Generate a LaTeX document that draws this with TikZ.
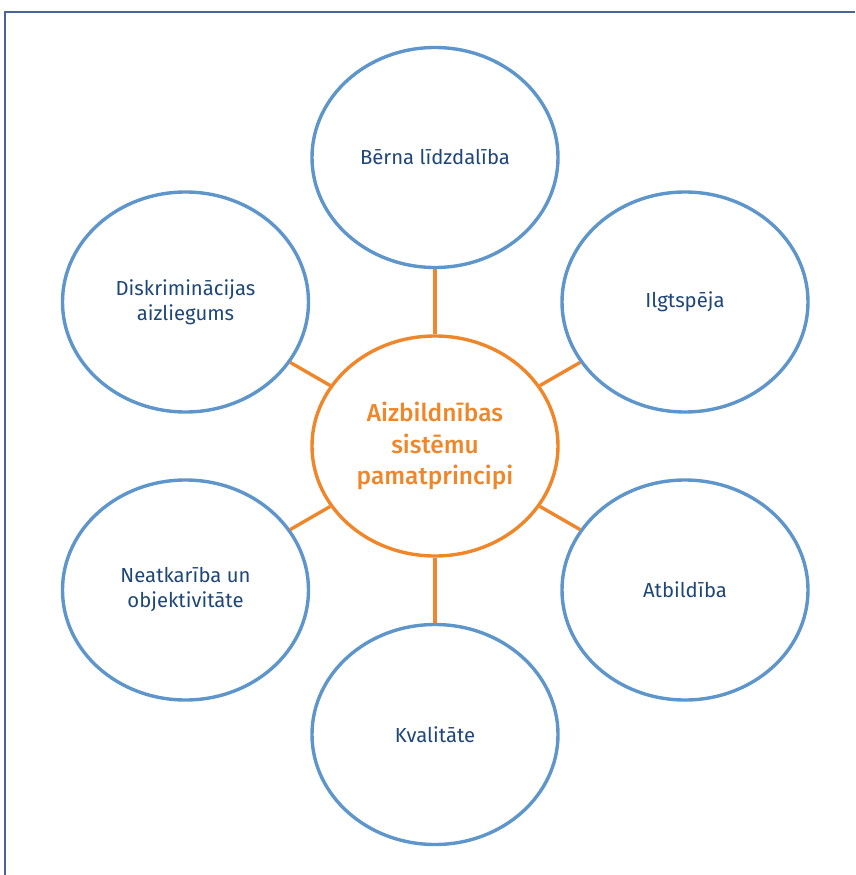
\documentclass[tikz,border=0pt]{standalone}
\usepackage{fontspec}
\setmainfont{Fira Sans}
\newfontfamily\medfont{Fira Sans Medium}
\usetikzlibrary{shapes.geometric}
\definecolor{ringblue}{HTML}{5E96CB}
\definecolor{textblue}{HTML}{1E4676}
\definecolor{hub}{HTML}{F0862A}
\definecolor{frame}{HTML}{4A6494}
\begin{document}
\begin{tikzpicture}[x=1pt,y=-1pt,
  petal/.style={ellipse, draw=ringblue, line width=3.4pt, minimum width=246pt, minimum height=220pt, inner sep=0pt,
    text=textblue, font=\fontsize{20.3}{25}\selectfont, align=center},
  centre/.style={ellipse, draw=hub, line width=3.4pt, minimum width=246pt, minimum height=220pt, inner sep=0pt,
    text=hub, font=\medfont\fontsize{24.5}{31.5}\selectfont, align=center},
  link/.style={draw=hub, line width=3.4pt}]
\useasboundingbox (0,0) rectangle (855,875);
\coordinate (fa) at (5,875);
\coordinate (fb) at (5,12);
\coordinate (fc) at (855,12);
\draw[frame, line width=1.3pt] (fa) -- (fb) -- (fc);
\node[centre] (c) at (435,446) {Aizbildnības\\sistēmu\\pamatprincipi};
\node[petal] (t) at (435,157.5) {Bērna līdzdalība};
\node[petal] (tr) at (685,302) {Ilgtspēja};
\node[petal] (br) at (685,590) {Atbildība};
\node[petal] (b) at (435,734.5) {Kvalitāte};
\node[petal] (bl) at (185.5,590) {Neatkarība un\\objektivitāte};
\node[petal] (tl) at (185.5,302) {Diskriminācijas\\aizliegums};
\foreach \n in {t,tr,br,b,bl,tl} \draw[link] (c) -- (\n);
\end{tikzpicture}
\end{document}
